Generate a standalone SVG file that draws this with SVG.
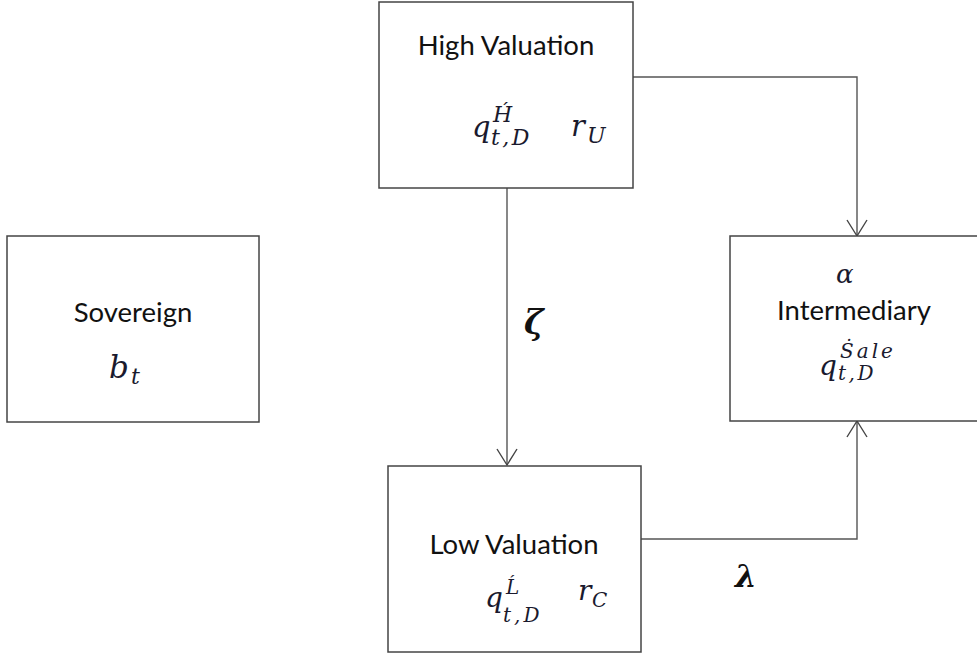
<svg xmlns="http://www.w3.org/2000/svg" width="977" height="656" viewBox="0 0 977 656">
<style>
.box{fill:#fff;stroke:#444;stroke-width:1.5}
.lbl{font-family:Lato,"Open Sans",sans-serif;font-size:27.5px;fill:#111;text-anchor:middle}
.m{font-family:"DejaVu Serif","Liberation Serif",serif;font-style:italic;fill:#1a1a2e}
.c{fill:none;stroke:#555;stroke-width:1.4}
.g{font-family:"DejaVu Serif","Liberation Serif",serif;font-style:italic;font-weight:bold;fill:#111}
</style>
<defs>
<marker id="arr" markerUnits="userSpaceOnUse" markerWidth="24" markerHeight="24" viewBox="-18 -12 20 24" refX="0" refY="0" orient="auto">
<path d="M-16,-10 L0,0 L-16,10" fill="none" stroke="#444" stroke-width="1.4"/>
</marker>
</defs>
<rect width="977" height="656" fill="#fff"/>
<g id="connectors">
<path class="c" d="M507,188 V465" marker-end="url(#arr)"/>
<path class="c" d="M633,77 H857 V236" marker-end="url(#arr)"/>
<path class="c" d="M641,539 H857 V421" marker-end="url(#arr)"/>
<text class="g" x="524" y="334" font-size="33">ζ</text>
<text class="g" x="735" y="587" font-size="31">λ</text>
</g>
<g id="high">
<rect class="box" x="379" y="2" width="254" height="186"/>
<text class="lbl" x="506" y="55">High Valuation</text>
<text class="m" x="472" y="137" font-size="29">q</text>
<text class="m" x="493" y="122" font-size="22">H́</text>
<text class="m" x="491" y="145" font-size="22" letter-spacing="2.5">t,D</text>
<text class="m" x="571" y="136" font-size="29">r</text>
<text class="m" x="587" y="143" font-size="22">U</text>
</g>
<g id="sovereign">
<rect class="box" x="7" y="236" width="252" height="186"/>
<text class="lbl" x="133" y="322">Sovereign</text>
<text class="m" x="109" y="378" font-size="31">b</text>
<text class="m" x="131" y="384" font-size="22">t</text>
</g>
<g id="intermediary">
<rect class="box" x="730" y="236" width="260" height="185"/>
<text class="m" x="836" y="283" font-size="26">α</text>
<text class="lbl" x="854" y="320">Intermediary</text>
<text class="m" x="819" y="375" font-size="28">q</text>
<text class="m" x="840" y="358" font-size="20" letter-spacing="3">Ṡale</text>
<text class="m" x="838" y="380" font-size="20" letter-spacing="2.5">t,D</text>
</g>
<g id="low">
<rect class="box" x="388" y="466" width="253" height="186"/>
<text class="lbl" x="514" y="554">Low Valuation</text>
<text class="m" x="485" y="607" font-size="28">q</text>
<text class="m" x="506" y="594" font-size="20">Ĺ</text>
<text class="m" x="503" y="622" font-size="20" letter-spacing="3">t,D</text>
<text class="m" x="578" y="600" font-size="28">r</text>
<text class="m" x="592" y="607" font-size="20">C</text>
</g>
</svg>
